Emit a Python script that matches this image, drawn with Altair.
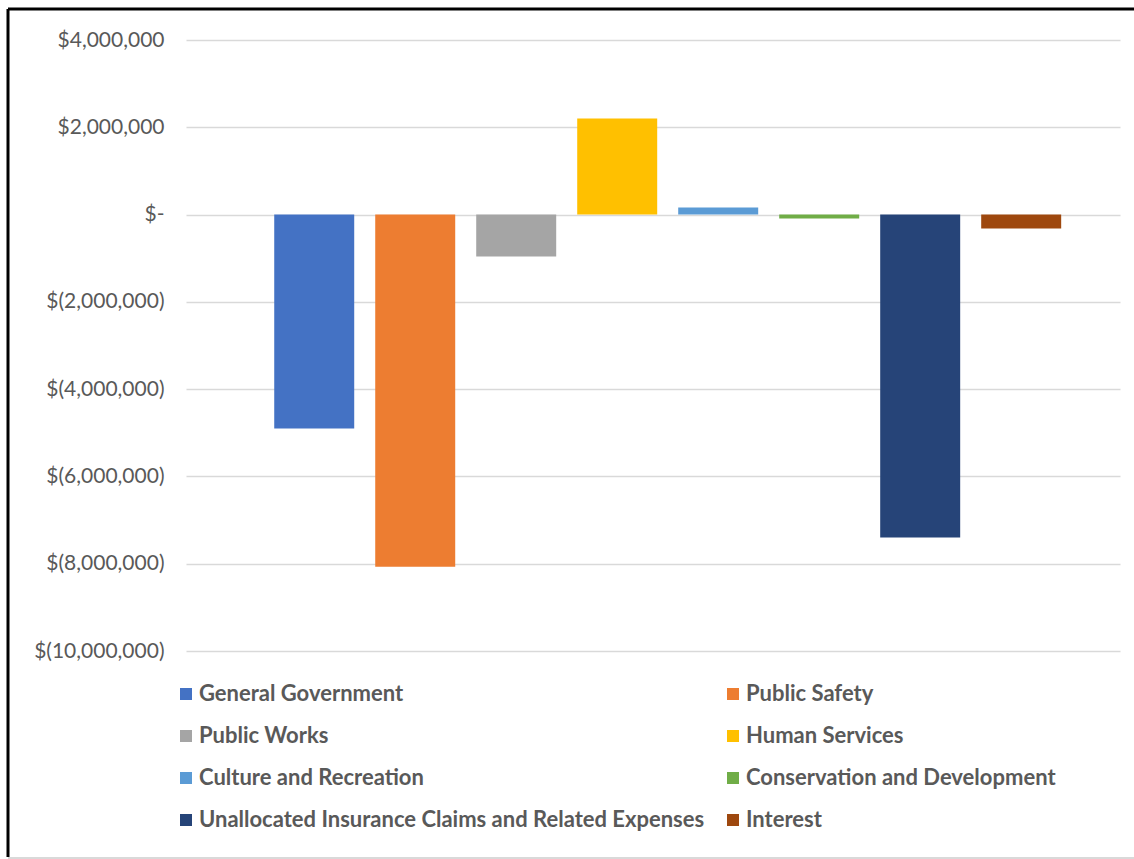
import altair as alt
import pandas as pd

categories = [
    "General Government",
    "Public Safety",
    "Public Works",
    "Human Services",
    "Culture and Recreation",
    "Conservation and Development",
    "Unallocated Insurance Claims and Related Expenses",
    "Interest",
]
values = [-4900000, -8070000, -960000, 2200000, 160000, -90000, -7400000, -320000]
colors = ["#4472C4", "#ED7D31", "#A5A5A5", "#FFC000", "#5B9BD5", "#70AD47", "#264478", "#9E480E"]
y_ticks = [4000000, 2000000, 0, -2000000, -4000000, -6000000, -8000000, -10000000]

df = pd.DataFrame({"category": categories, "value": values})

label_expr = (
    "datum.value == 0 ? '$-\u00a0\u00a0' : (datum.value < 0 ? '$(' + format(-datum.value, ',') + ')' "
    ": '$' + format(datum.value, ',') + '\u00a0\u00a0')"
)

bars = alt.Chart(df).mark_bar().encode(
    x=alt.X(
        "category:N",
        sort=categories,
        scale=alt.Scale(paddingInner=0.208, paddingOuter=0.728, align=0.6),
        axis=None,
    ),
    y=alt.Y(
        "value:Q",
        scale=alt.Scale(domain=[-10000000, 4000000], nice=False, zero=True),
        axis=alt.Axis(
            values=y_ticks,
            labelExpr=label_expr,
            title=None,
            ticks=False,
            domain=False,
            grid=True,
            gridColor="#D9D9D9",
            gridWidth=1.5,
            labelFont="Lato",
            labelFontSize=21,
            labelColor="#595959",
            labelPadding=22,
        ),
    ),
    color=alt.Color(
        "category:N",
        sort=categories,
        scale=alt.Scale(domain=categories, range=colors),
        legend=alt.Legend(
            title=None,
            orient="none",
            legendX=-11,
            legendY=643,
            columns=2,
            direction="horizontal",
            symbolType="square",
            symbolSize=144,
            symbolStrokeWidth=0,
            labelFont="Lato",
            labelFontWeight="bold",
            labelFontSize=22,
            labelColor="#595959",
            labelOffset=2,
            labelLimit=800,
            rowPadding=20,
            columnPadding=17,
        ),
    ),
)

frame_df = pd.DataFrame({"k": [0]})
left_line = alt.Chart(frame_df).mark_rule(color="black", strokeWidth=3).encode(
    x=alt.value(-178), y=alt.value(-31), y2=alt.value(817)
)
top_line = alt.Chart(frame_df).mark_rule(color="black", strokeWidth=3).encode(
    x=alt.value(-178), x2=alt.value(948), y=alt.value(-31)
)
bottom_line = alt.Chart(frame_df).mark_rule(color="#D9D9D9", strokeWidth=2).encode(
    x=alt.value(-178), x2=alt.value(948), y=alt.value(818)
)

chart = alt.layer(bars, left_line, top_line, bottom_line).properties(
    width=934,
    height=611,
    background="white",
    autosize=alt.AutoSizeParams(type="none"),
    padding={"left": 186, "top": 40, "right": 14, "bottom": 208},
).configure_view(strokeWidth=0)

chart.save("out.html", embed_options={"renderer": "svg", "actions": False})
